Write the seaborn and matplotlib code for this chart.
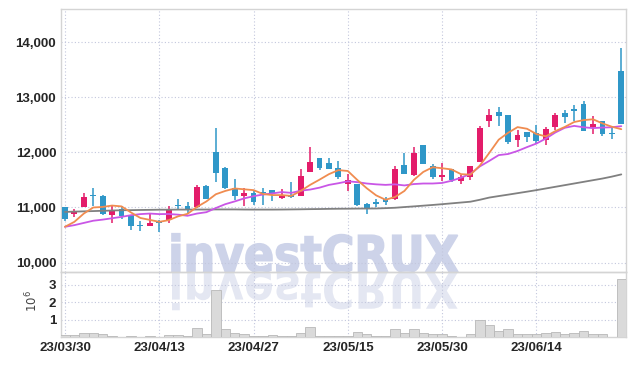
import numpy as np
import pandas as pd
import seaborn as sns
import matplotlib
matplotlib.use('Agg')
import matplotlib.pyplot as plt
from matplotlib.textpath import TextPath
from matplotlib.font_manager import FontProperties
from matplotlib.patches import PathPatch
from matplotlib.transforms import Affine2D

# daily candles (KRW)
opens = [11000, 10880, 11010, 11225, 11205, 10860, 10970, 10860, 10685, 10660,
         10760, 10770, 11050, 11035, 11000, 11385, 12005, 11715, 11350, 11205,
         11270, 11275, 11325, 11175, 11225, 11210, 11645, 11905, 11805, 11715,
         11435, 11425, 11055, 11095, 11160, 11150, 11770, 11595, 12130, 11755,
         11550, 11705, 11480, 11555, 11830, 12570, 12730, 12675, 12220, 12375,
         12360, 12220, 12465, 12705, 12785, 12875, 12465, 12565, 12350, 13470]
highs = [11000, 10980, 11270, 11360, 11235, 11035, 11030, 10860, 10750, 10890,
         10770, 11025, 11155, 11095, 11415, 11400, 12435, 11740, 11520, 11360,
         11315, 11360, 11325, 11340, 11460, 11690, 12090, 11905, 11890, 11840,
         11605, 11425, 11090, 11155, 11195, 11745, 11980, 12090, 12130, 11785,
         11815, 11705, 11585, 11760, 12475, 12795, 12825, 12675, 12405, 12375,
         12500, 12465, 12705, 12760, 12850, 12925, 12665, 12565, 12435, 13900]
lows = [10750, 10830, 11000, 11025, 10860, 10710, 10790, 10590, 10575, 10660,
        10560, 10710, 10950, 10890, 10990, 11150, 11465, 11330, 11135, 11025,
        11040, 11040, 11115, 11150, 11175, 11200, 11640, 11675, 11700, 11520,
        11300, 11025, 10880, 11010, 11040, 11130, 11610, 11570, 11785, 11515,
        11480, 11465, 11435, 11505, 11820, 12465, 12485, 12145, 12090, 12190,
        12160, 12130, 12405, 12525, 12570, 12390, 12340, 12295, 12235, 12510]
closes = [10800, 10925, 11190, 11200, 10890, 10945, 10850, 10665, 10665, 10715,
          10720, 10980, 11030, 10965, 11370, 11155, 11630, 11350, 11205, 11270,
          11105, 11260, 11250, 11210, 11195, 11580, 11825, 11720, 11700, 11555,
          11495, 11050, 10995, 11055, 11100, 11695, 11615, 11980, 11785, 11555,
          11585, 11505, 11550, 11760, 12435, 12675, 12655, 12190, 12310, 12280,
          12205, 12415, 12670, 12645, 12755, 12390, 12510, 12330, 12330, 12510]
# volume in millions
volume = [0.10, 0.13, 0.25, 0.25, 0.19, 0.08, 0.02, 0.06, 0.02, 0.08,
          0.02, 0.13, 0.13, 0.08, 0.53, 0.19, 2.70, 0.46, 0.25, 0.19,
          0.06, 0.06, 0.13, 0.06, 0.06, 0.25, 0.57, 0.08, 0.06, 0.06,
          0.06, 0.30, 0.15, 0.08, 0.08, 0.48, 0.23, 0.48, 0.23, 0.15,
          0.15, 0.06, 0.02, 0.15, 0.95, 0.67, 0.32, 0.44, 0.15, 0.15,
          0.15, 0.23, 0.27, 0.15, 0.23, 0.36, 0.15, 0.15, 0.02, 3.33]
# moving average lines as drawn
ma5 = [10650, 10740, 10890, 11000, 11010, 11035, 11020, 10910, 10810, 10775,
       10740, 10770, 10840, 10885, 11010, 11110, 11240, 11300, 11345, 11330,
       11315, 11245, 11225, 11225, 11210, 11300, 11410, 11505, 11605, 11678,
       11662, 11500, 11350, 11220, 11140, 11190, 11300, 11500, 11645, 11730,
       11712, 11690, 11605, 11595, 11760, 11990, 12230, 12355, 12458, 12428,
       12332, 12290, 12385, 12460, 12550, 12585, 12600, 12525, 12465, 12420]
ma10 = [10650, 10680, 10720, 10760, 10780, 10805, 10830, 10860, 10880, 10890,
        10880, 10882, 10870, 10850, 10890, 10915, 10990, 11060, 11110, 11165,
        11205, 11235, 11255, 11280, 11265, 11305, 11325, 11360, 11410, 11440,
        11475, 11460, 11435, 11420, 11410, 11420, 11400, 11425, 11435, 11435,
        11445, 11485, 11540, 11610, 11745, 11845, 11950, 11970, 12025, 12095,
        12160, 12250, 12360, 12445, 12480, 12455, 12440, 12450, 12455, 12475]
ma_long = [10920, 10925, 10930, 10935, 10940, 10945, 10950, 10952, 10955, 10957,
           10960, 10960, 10962, 10962, 10963, 10963, 10965, 10965, 10965, 10963,
           10962, 10962, 10962, 10963, 10965, 10967, 10970, 10972, 10975, 10977,
           10978, 10980, 10981, 10982, 10988, 10995, 11008, 11020, 11033, 11046,
           11060, 11075, 11090, 11105, 11140, 11180, 11207, 11233, 11260, 11287,
           11315, 11345, 11375, 11405, 11435, 11465, 11495, 11525, 11560, 11600]

tick_pos = [0, 10, 20, 30, 40, 50]
tick_lab = ['23/03/30', '23/04/13', '23/04/27', '23/05/15', '23/05/30', '23/06/14']

df = pd.DataFrame({'o': opens, 'h': highs, 'l': lows, 'c': closes, 'v': volume,
                   'ma5': ma5, 'ma10': ma10, 'ma_long': ma_long})
df['x'] = np.arange(len(df))

RED = '#e31c6a'
BLUE = '#2f97c8'
GRID = '#c3c7dd'
EDGE = '#d4d4d4'

sns.set_theme(style='white')
plt.rcParams['font.family'] = ['Liberation Sans', 'DejaVu Sans']

fig = plt.figure(figsize=(6.34, 3.66), dpi=100)
ax = fig.add_axes([61/634, 1-272/366, 565/634, 263/366])
axv = fig.add_axes([61/634, 1-337/366, 565/634, 65/366], sharex=ax)
for a in (ax, axv):
    a.set_facecolor('none')

# watermark + its reflection
fp = FontProperties(family='DejaVu Sans', weight='bold')
tp = TextPath((0, 0), 'investCRUX', size=1, prop=fp)
bb = tp.get_extents()
sx, sy = 286 / bb.width, 39 / bb.height
tr = Affine2D().translate(-bb.x0, 0).scale(sx, sy).translate(172, 94)
fig.add_artist(PathPatch(tp, transform=tr, facecolor='#cdd3e9', edgecolor='#cdd3e9',
                         linewidth=1.2, zorder=-2))
tr2 = Affine2D().translate(-bb.x0, 0).scale(sx, -sy).translate(172, 94)
fig.add_artist(PathPatch(tp, transform=tr2, facecolor='#e4e7f2', edgecolor='none', zorder=-2))

# candles
up = df['c'] >= df['o']
cols = np.where(up, RED, BLUE)
ax.vlines(df['x'], df['l'], df['h'], colors=cols, linewidth=1.1, zorder=3)
body = np.maximum((df['c'] - df['o']).abs(), 22)
ax.bar(df['x'], body, bottom=np.minimum(df['o'], df['c']), width=0.62,
       color=cols, linewidth=0, zorder=4)

sns.lineplot(data=df, x='x', y='ma_long', ax=ax, color='#808080', linewidth=1.3, zorder=5)
sns.lineplot(data=df, x='x', y='ma10', ax=ax, color='#c956e6', linewidth=1.3, zorder=5)
sns.lineplot(data=df, x='x', y='ma5', ax=ax, color='#f08c50', linewidth=1.3, zorder=6)

# volume
axv.bar(df['x'], df['v'], width=1.0, color='#dadada', edgecolor='#b8b8b8', linewidth=0.6, zorder=3)

ax.set_xlim(-0.42, 59.5)
ax.set_ylim(9830, 14600)
ax.set_yticks([10000, 11000, 12000, 13000, 14000])
ax.set_yticklabels(['10,000', '11,000', '12,000', '13,000', '14,000'])
axv.set_ylim(0, 3.72)
axv.set_yticks([1, 2, 3])
axv.set_yticklabels(['1', '2', '3'])
axv.set_xticks(tick_pos)
axv.set_xticklabels(tick_lab)

for a in (ax, axv):
    a.set_xlabel('')
    a.set_ylabel('')
    a.grid(True, linestyle=(0, (1, 2)), color=GRID, linewidth=0.8)
    a.set_axisbelow(True)
    a.tick_params(length=0, pad=3.5, labelsize=9.5, labelcolor='#262626')
    for s in a.spines.values():
        s.set_color(EDGE)
        s.set_linewidth(1)
    for lab in a.get_xticklabels() + a.get_yticklabels():
        lab.set_fontweight('bold')
ax.tick_params(labelbottom=False)

fig.text(32/634, 1-301/366, r'$10^6$', rotation=90, ha='center', va='center',
         fontsize=8.5, color='#444444')

fig.savefig('out.png', dpi=100)
